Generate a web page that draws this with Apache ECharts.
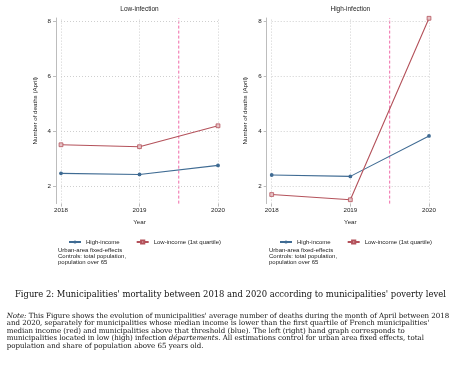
<!DOCTYPE html>
<html><head><meta charset="utf-8">
<script src="https://cdn.jsdelivr.net/npm/echarts@6/dist/echarts.min.js"></script>
<style>html,body{margin:0;padding:0;background:#fff}#c{width:453px;height:382px}</style>
</head><body><div id="c"></div>
<script>
// ---- data ----
const years = [2018, 2019, 2020];
const yTicks = [2, 4, 6, 8];
const yRange = [1.38, 8.13];
const lowInfHighIncome = [2.48, 2.44, 2.77];
const lowInfLowIncome = [3.52, 3.45, 4.21];
const highInfHighIncome = [2.42, 2.37, 3.84];
const highInfLowIncome = [1.71, 1.52, 8.12];
const covidLine = 2019.5;
const panelTitles = ['Low-infection', 'High-infection'];
const seriesNames = ['High-income', 'Low-income (1st quartile)'];
const noteLines = ['Urban-area fixed-effects', 'Controls: total population,', 'population over 65'];
const captionText = "Figure 2: Municipalities' mortality between 2018 and 2020 according to municipalities' poverty level";

const BLUE = '#3f6b93', RED = '#b4525b', PINK = '#f06aa8', GRID = '#cfcfcf', AX = '#bdbdbd', TXT = '#222';
const SANS = 'Liberation Sans, Arial, sans-serif';
const SERIF = 'DejaVu Serif, serif';

function measure(text, font) {
  const c = document.createElement('canvas').getContext('2d');
  c.font = font; return c.measureText(text).width;
}
function fit(text, family, target) {
  const w = measure(text, '100px ' + family);
  return 100 * target / w;
}

const grids = [
  {left: 61, width: 157, top: 18, height: 185.6},
  {left: 271.7, width: 157.3, top: 18, height: 185.6}
];
const xAxes = [], yAxes = [], series = [];
const panelData = [[lowInfHighIncome, lowInfLowIncome], [highInfHighIncome, highInfLowIncome]];
for (let i = 0; i < 2; i++) {
  xAxes.push({
    gridIndex: i, type: 'value', min: years[0], max: years[years.length-1], interval: 1,
    name: 'Year', nameLocation: 'middle', nameGap: 16,
    nameTextStyle: {fontSize: 6.2, color: TXT, fontFamily: SANS},
    axisLine: {show: false},
    axisTick: {show: true, length: 3, lineStyle: {color: AX}},
    axisLabel: {fontSize: 6.2, color: TXT, fontFamily: SANS, margin: 4, formatter: v => String(v)},
    splitLine: {show: false}
  });
  yAxes.push({
    gridIndex: i, type: 'value', min: yRange[0], max: yRange[1], offset: 5,
    name: 'Number of deaths (April)', nameLocation: 'middle', nameGap: 18,
    nameTextStyle: {fontSize: 6.2, color: TXT, fontFamily: SANS},
    axisLine: {show: true, lineStyle: {color: AX, width: 1}},
    axisTick: {show: true, length: 3, lineStyle: {color: AX}, customValues: yTicks},
    axisLabel: {fontSize: 6.2, color: TXT, fontFamily: SANS, margin: 5, customValues: yTicks},
    splitLine: {show: false}
  });
  // dotted gridlines
  series.push({
    type: 'line', xAxisIndex: i, yAxisIndex: i, data: [], silent: true, z: 1,
    markLine: {
      silent: true, symbol: 'none', label: {show: false}, animation: false,
      lineStyle: {color: GRID, type: [1, 2], width: 1},
      data: [...yTicks.map(v => ({yAxis: v})), ...years.map(v => ({xAxis: v}))]
    }
  });
  // covid threshold line
  series.push({
    type: 'line', xAxisIndex: i, yAxisIndex: i, silent: true, z: 2,
    data: [[covidLine, yRange[0]], [covidLine, yRange[1]]],
    symbol: 'none', lineStyle: {color: PINK, type: [3, 2], width: 1}, itemStyle: {color: PINK},
    emphasis: {disabled: true}
  });
  const [hi, lo] = panelData[i];
  series.push({
    name: seriesNames[0], type: 'line', xAxisIndex: i, yAxisIndex: i,
    data: years.map((y, k) => [y, hi[k]]),
    symbol: 'circle', symbolSize: 3.8, z: 5,
    lineStyle: {color: BLUE, width: 1.1}, itemStyle: {color: BLUE},
    emphasis: {disabled: true}
  });
  series.push({
    name: seriesNames[1], type: 'line', xAxisIndex: i, yAxisIndex: i,
    data: years.map((y, k) => [y, lo[k]]),
    symbol: 'rect', symbolSize: 3.8, z: 5,
    lineStyle: {color: RED, width: 1.1}, itemStyle: {color: '#e6c3c6', borderColor: RED, borderWidth: 0.8},
    emphasis: {disabled: true}
  });
}

const legendCommon = {
  data: seriesNames, top: 234, itemWidth: 12, itemHeight: 4, itemGap: 16,
  textStyle: {fontSize: 6, color: TXT, fontFamily: SANS}, selectedMode: false
};

const capSize = fit(captionText, SERIF, 432);
const notes = [
  {pre: 'Note:', text: " This Figure shows the evolution of municipalities' average number of deaths during the month of April between 2018"},
  {text: "and 2020, separately for municipalities whose median income is lower than the first quartile of French municipalities'"},
  {text: "median income (red) and municipalities above that threshold (blue). The left (right) hand graph corresponds to"},
  {text: "municipalities located in low (high) infection ", it: 'départements', post: '. All estimations control for urban area fixed effects, total'},
  {text: "population and share of population above 65 years old."}
];
const noteSize = fit(notes[0].pre + notes[0].text, SERIF, 444);
const graphics = [];
panelTitles.forEach((t, i) => {
  graphics.push({type: 'text', silent: true,
    style: {text: t, x: grids[i].left + grids[i].width/2, y: 9, align: 'center', verticalAlign: 'middle',
      fontSize: 6.5, fill: TXT, fontFamily: SANS}});
});
[58, 269].forEach(x => {
  graphics.push({type: 'text', silent: true,
    style: {text: noteLines.join('\n'), x: x, y: 247, fontSize: 6, lineHeight: 6, fill: TXT, fontFamily: SANS}});
});
graphics.push({type: 'text', silent: true,
  style: {text: captionText, x: 15, y: 295, verticalAlign: 'middle', fontSize: capSize, fill: '#111', fontFamily: SERIF}});
notes.forEach((n, k) => {
  let s = '';
  if (n.pre) s += '{i|' + n.pre + '}';
  s += '{r|' + n.text + '}';
  if (n.it) s += '{i|' + n.it + '}';
  if (n.post) s += '{r|' + n.post + '}';
  graphics.push({type: 'text', silent: true,
    style: {text: s, x: 6.7, y: 316 + k * 7.45, verticalAlign: 'middle',
      rich: {
        r: {fontSize: noteSize, fontFamily: SERIF, fill: '#111'},
        i: {fontSize: noteSize, fontFamily: SERIF, fontStyle: 'italic', fill: '#111'}
      }}});
});

const chart = echarts.init(document.getElementById('c'), null, {renderer: 'canvas'});
chart.setOption({
  animation: false,
  backgroundColor: '#fff',
  grid: grids,
  xAxis: xAxes,
  yAxis: yAxes,
  legend: [Object.assign({left: 63}, legendCommon), Object.assign({left: 274}, legendCommon)],
  series: series,
  graphic: graphics
});
</script></body></html>
